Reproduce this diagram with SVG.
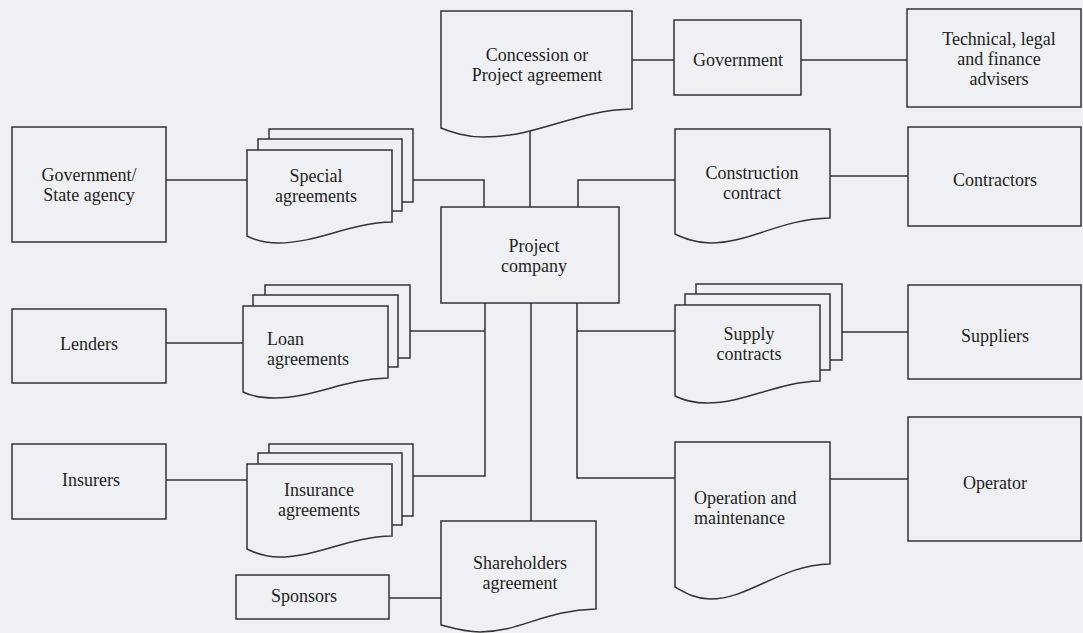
<svg xmlns="http://www.w3.org/2000/svg" width="1083" height="633" viewBox="0 0 1083 633">
  <style>
    .bg { fill: #eef0f4; }
    .shape { fill: #eef0f4; stroke: #333333; stroke-width: 1.5; }
    .wire { fill: none; stroke: #333333; stroke-width: 1.5; }
    text { font-family: "Liberation Serif", "Times New Roman", serif; font-size: 18px; fill: #231f20; }
    .c { text-anchor: middle; }
  </style>
  <rect class="bg" x="0" y="0" width="1083" height="633"/>

  <!-- connectors -->
  <g id="connectors">
    <path class="wire" d="M166,180 H247"/>
    <path class="wire" d="M413,180 H484 V207"/>
    <path class="wire" d="M530,120 V207"/>
    <path class="wire" d="M632,60 H674"/>
    <path class="wire" d="M801,60 H907"/>
    <path class="wire" d="M578,207 V180 H675"/>
    <path class="wire" d="M830,176 H908"/>
    <path class="wire" d="M166,343 H243"/>
    <path class="wire" d="M166,480 H247"/>
    <path class="wire" d="M410,331 H485 M485,303 V476 H413"/>
    <path class="wire" d="M531,303 V521"/>
    <path class="wire" d="M389,598 H441"/>
    <path class="wire" d="M577,303 V478 H675 M577,331 H675"/>
    <path class="wire" d="M842,332 H908"/>
    <path class="wire" d="M830,479 H908"/>
  </g>

  <!-- document nodes -->
  <g id="concession">
    <path class="shape" d="M441,11 H632 V109 C575,110 540,137 483,137 C465,137 452,132 441,128 Z"/>
    <text class="c" x="537" y="61">Concession or</text>
    <text class="c" x="537" y="81">Project agreement</text>
  </g>

  <g id="special-agreements">
    <rect class="shape" x="269" y="129" width="144" height="73"/>
    <rect class="shape" x="258" y="139" width="144" height="72"/>
    <path class="shape" d="M247,150 H392 V222 C348,223 318,243 278,243 C265,243 255,240 247,236 Z"/>
    <text class="c" x="316" y="182">Special</text>
    <text class="c" x="316" y="202">agreements</text>
  </g>

  <g id="loan-agreements">
    <rect class="shape" x="265" y="285" width="145" height="73"/>
    <rect class="shape" x="253" y="295" width="145" height="72"/>
    <path class="shape" d="M243,306 H388 V378 C344,379 314,398 275,398 C261,398 251,396 243,392 Z"/>
    <text x="267" y="345">Loan</text>
    <text x="267" y="365">agreements</text>
  </g>

  <g id="insurance-agreements">
    <rect class="shape" x="269" y="444" width="144" height="72"/>
    <rect class="shape" x="258" y="453" width="144" height="72"/>
    <path class="shape" d="M247,464 H392 V536 C348,537 318,557 279,557 C266,557 255,553 247,549 Z"/>
    <text class="c" x="319" y="496">Insurance</text>
    <text class="c" x="319" y="516">agreements</text>
  </g>

  <g id="shareholders-agreement">
    <path class="shape" d="M441,521 H596 V609 C545,610 520,632 480,632 C465,632 452,628 441,625 Z"/>
    <text class="c" x="520" y="569">Shareholders</text>
    <text class="c" x="520" y="589">agreement</text>
  </g>

  <g id="construction-contract">
    <path class="shape" d="M675,129 H830 V218 C780,219 750,243 710,243 C695,243 684,238 675,234 Z"/>
    <text class="c" x="752" y="179">Construction</text>
    <text class="c" x="752" y="199">contract</text>
  </g>

  <g id="supply-contracts">
    <rect class="shape" x="696" y="284" width="146" height="76"/>
    <rect class="shape" x="685" y="294" width="145" height="76"/>
    <path class="shape" d="M675,305 H820 V381 C776,382 746,403 707,403 C693,403 683,400 675,396 Z"/>
    <text class="c" x="749" y="340">Supply</text>
    <text class="c" x="749" y="360">contracts</text>
  </g>

  <g id="operation-maintenance">
    <path class="shape" d="M675,442 H830 V564 C780,565 750,599 710,599 C695,599 684,592 675,587 Z"/>
    <text x="694" y="504">Operation and</text>
    <text x="694" y="524">maintenance</text>
  </g>

  <!-- box nodes -->
  <g id="project-company">
    <rect class="shape" x="441" y="207" width="178" height="96"/>
    <text class="c" x="534" y="252">Project</text>
    <text class="c" x="534" y="272">company</text>
  </g>

  <g id="government">
    <rect class="shape" x="674" y="20" width="127" height="75"/>
    <text class="c" x="738" y="66">Government</text>
  </g>

  <g id="advisers">
    <rect class="shape" x="907" y="9" width="174" height="98"/>
    <text class="c" x="999" y="45">Technical, legal</text>
    <text class="c" x="999" y="65">and finance</text>
    <text class="c" x="999" y="85">advisers</text>
  </g>

  <g id="state-agency">
    <rect class="shape" x="12" y="127" width="154" height="115"/>
    <text class="c" x="89" y="181">Government/</text>
    <text class="c" x="89" y="201">State agency</text>
  </g>

  <g id="lenders">
    <rect class="shape" x="12" y="309" width="154" height="74"/>
    <text class="c" x="89" y="350">Lenders</text>
  </g>

  <g id="insurers">
    <rect class="shape" x="12" y="444" width="154" height="75"/>
    <text class="c" x="91" y="486">Insurers</text>
  </g>

  <g id="sponsors">
    <rect class="shape" x="236" y="575" width="153" height="44"/>
    <text class="c" x="304" y="602">Sponsors</text>
  </g>

  <g id="contractors">
    <rect class="shape" x="908" y="127" width="173" height="99"/>
    <text class="c" x="995" y="186">Contractors</text>
  </g>

  <g id="suppliers">
    <rect class="shape" x="908" y="285" width="173" height="94"/>
    <text class="c" x="995" y="342">Suppliers</text>
  </g>

  <g id="operator">
    <rect class="shape" x="908" y="417" width="173" height="124"/>
    <text class="c" x="995" y="489">Operator</text>
  </g>
</svg>
